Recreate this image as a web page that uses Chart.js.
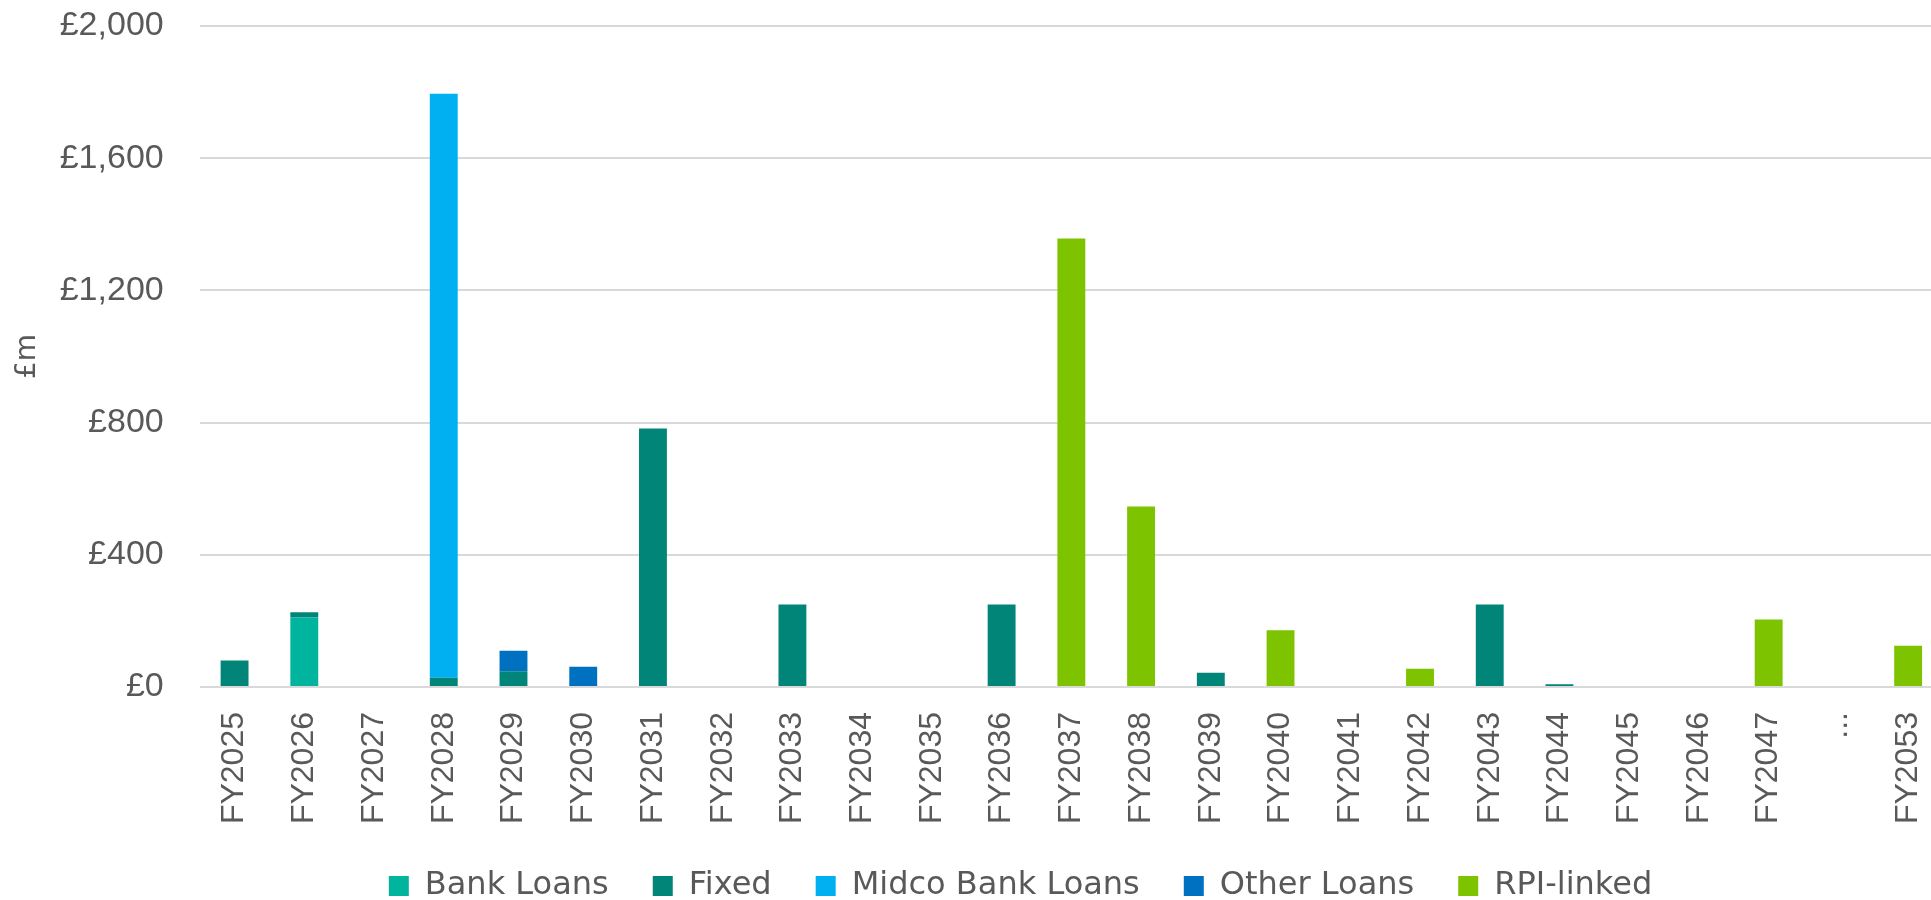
<!DOCTYPE html>
<html>
<head>
<meta charset="utf-8">
<title>Debt maturity profile</title>
<script src="https://cdn.jsdelivr.net/npm/chart.js@4.4.1/dist/chart.umd.min.js"></script>
<style>
  html, body { margin: 0; padding: 0; background: #ffffff; overflow: hidden; }
  /* the plot runs slightly past the right edge of the window, as in the original */
  #wrap { width: 1943px; height: 900px; }
</style>
</head>
<body>
<div id="wrap"><canvas id="maturity" width="1943" height="900"></canvas></div>
<script>
// categories
const years = ['FY2025', 'FY2026', 'FY2027', 'FY2028', 'FY2029', 'FY2030', 'FY2031', 'FY2032',
  'FY2033', 'FY2034', 'FY2035', 'FY2036', 'FY2037', 'FY2038', 'FY2039', 'FY2040', 'FY2041',
  'FY2042', 'FY2043', 'FY2044', 'FY2045', 'FY2046', 'FY2047', '...', 'FY2053'];

// series values (£m)
const bankLoans  = [0, 210, 0, 0, 0, 0, 0, 0, 0, 0, 0, 0, 0, 0, 0, 0, 0, 0, 0, 0, 0, 0, 0, 0, 0];
const fixed      = [80, 16, 0, 28, 48, 0, 782, 0, 250, 0, 0, 250, 0, 0, 43, 0, 0, 0, 250, 8, 0, 0, 0, 0, 0];
const midcoBank  = [0, 0, 0, 1767, 0, 0, 0, 0, 0, 0, 0, 0, 0, 0, 0, 0, 0, 0, 0, 0, 0, 0, 0, 0, 0];
const otherLoans = [0, 0, 0, 0, 62, 61, 0, 0, 0, 0, 0, 0, 0, 0, 0, 0, 0, 0, 0, 0, 0, 0, 0, 0, 0];
const rpiLinked  = [0, 0, 0, 0, 0, 0, 0, 0, 0, 0, 0, 0, 1357, 546, 0, 172, 0, 55, 0, 0, 0, 0, 204, 0, 125];

// y axis ticks
const yTicks = [0, 400, 800, 1200, 1600, 2000];

const seriesNames  = ['Bank Loans', 'Fixed', 'Midco Bank Loans', 'Other Loans', 'RPI-linked'];
const seriesColors = ['#00B49D', '#008578', '#00B0F0', '#0070C0', '#7DC300'];

function drawMaturityChart() {
    let values = [bankLoans, fixed, midcoBank, otherLoans, rpiLinked];
    let datasets = values.map((v, i) => ({
        label: seriesNames[i],
        data: v,
        backgroundColor: seriesColors[i],
        borderWidth: 0,
        categoryPercentage: 1,
        barPercentage: 0.4
    }));

    let textColor = '#595959';
    let clear = 'rgba(0,0,0,0)';

    let ctx = document.getElementById('maturity');
    let chart = new Chart(ctx, {
        type: 'bar',
        data: { labels: years, datasets: datasets },
        options: {
            responsive: false,
            animation: false,
            // negative right padding only widens the legend box so it sits where the original one does
            layout: { padding: { left: 0, top: 26, right: -98, bottom: 0 } },
            plugins: {
                tooltip: { enabled: false },
                legend: {
                    position: 'bottom',
                    maxHeight: 74,
                    labels: {
                        boxWidth: 20,
                        boxHeight: 20,
                        padding: 44,
                        color: textColor,
                        font: { family: 'DejaVu Sans', size: 32 }
                    }
                }
            },
            scales: {
                x: {
                    stacked: true,
                    grid: { display: true, drawOnChartArea: false, drawTicks: true, tickLength: 25, tickColor: clear },
                    border: { display: false },
                    ticks: {
                        autoSkip: false,
                        minRotation: 90,
                        maxRotation: 90,
                        padding: 0,
                        color: textColor,
                        font: { family: 'Liberation Sans', size: 32, lineHeight: 1 }
                    },
                    afterFit: (scale) => { scale.height = 139; }
                },
                y: {
                    stacked: true,
                    min: 0,
                    max: 2000,
                    afterBuildTicks: (scale) => {
                        scale.ticks = yTicks.map(v => ({ value: v }));
                    },
                    grid: { color: '#d9d9d9', lineWidth: 2, drawTicks: true, tickLength: 36, tickColor: clear },
                    border: { display: false },
                    ticks: {
                        padding: 0,
                        color: textColor,
                        font: { family: 'Liberation Sans', size: 34 },
                        callback: (v) => '£' + Number(v).toLocaleString('en-GB')
                    },
                    title: {
                        display: true,
                        text: '£m',
                        color: textColor,
                        font: { family: 'DejaVu Sans', size: 28 },
                        padding: { top: 11, bottom: 0 }
                    },
                    afterFit: (scale) => { scale.width = 199.7; }
                }
            }
        }
    });
    return chart;
}

drawMaturityChart();
</script>
</body>
</html>
